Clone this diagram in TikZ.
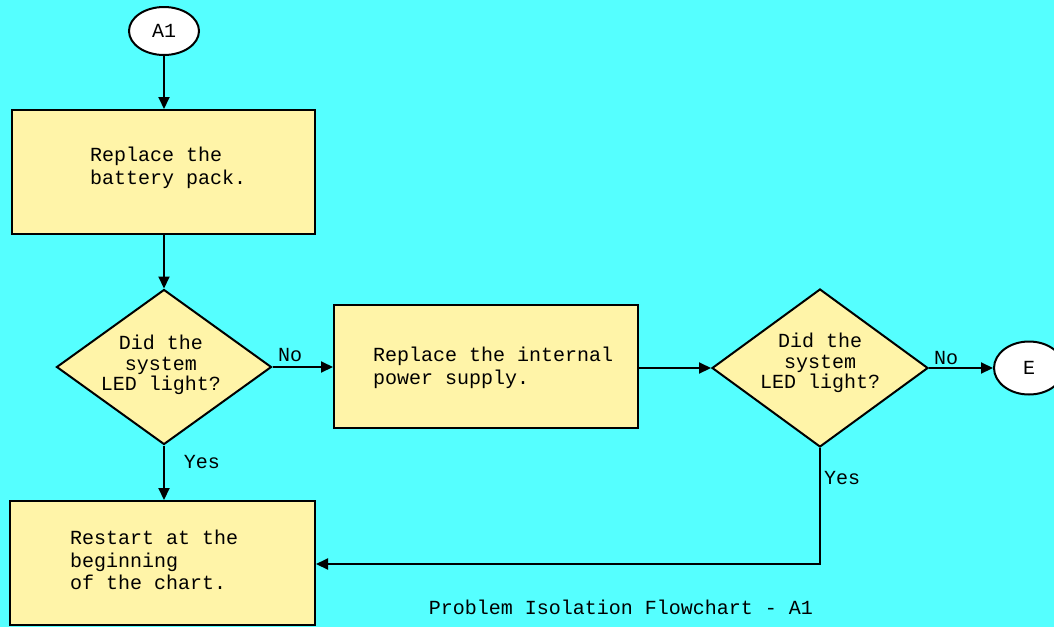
\documentclass[tikz,border=0pt]{standalone}
\usepackage{fontspec}
\setmonofont{Liberation Mono}
\usetikzlibrary{shapes.geometric,arrows.meta}
\definecolor{bgcyan}{RGB}{85,255,255}
\definecolor{boxyellow}{RGB}{255,244,168}
\tikzset{
  every node/.style={font=\ttfamily\fontsize{20}{22.5}\selectfont},
  procbox/.style={draw=black,line width=2pt,fill=boxyellow,rectangle,inner sep=0pt},
  decision/.style={draw=black,line width=2pt,fill=boxyellow,diamond,inner sep=0pt},
  terminal/.style={draw=black,line width=2pt,fill=white,ellipse,inner sep=0pt},
  boxtext/.style={anchor=west,align=left,inner sep=0pt},
  dectext/.style={align=center,inner sep=0pt,font=\ttfamily\fontsize{20}{20.5}\selectfont},
  lbl/.style={inner sep=0pt},
  conn/.style={line width=2pt,-{Triangle[length=12pt,width=11pt]}}
}
\begin{document}
\begin{tikzpicture}[x=1pt,y=-1pt]
\useasboundingbox (0,0) rectangle (1054,627);
\clip (0,0) rectangle (1054,627);
\fill[bgcyan] (0,0) rectangle (1054,627);
% nodes
\node[terminal,minimum width=70pt,minimum height=48pt] (a1) at (164,31) {A1};
\node[procbox,minimum width=303pt,minimum height=124pt] (b1) at (163.5,172) {};
\node[boxtext] (t1) at (90,168) {Replace the\\battery pack.};
\node[decision,minimum width=215pt,minimum height=155pt] (d1) at (164,367) {};
\node[dectext] (t2) at (161,365) {Did the\\system\\LED light?};
\node[procbox,minimum width=304pt,minimum height=123pt] (b2) at (486,366.5) {};
\node[boxtext] (t3) at (373,368) {Replace the internal\\power supply.};
\node[decision,minimum width=216pt,minimum height=158pt] (d2) at (820,368) {};
\node[dectext] (t4) at (820,363) {Did the\\system\\LED light?};
\node[terminal,minimum width=70pt,minimum height=53pt] (e) at (1029,368) {E};
\node[procbox,minimum width=305pt,minimum height=124pt] (b3) at (162.5,563) {};
\node[boxtext] (t5) at (70,560) {Restart at the\\beginning\\of the chart.};
% connectors
\draw[conn] (a1.south) -- (a1.south |- b1.north);
\draw[conn] (b1.south -| d1.north) -- (d1.north);
\draw[conn] (d1.east) -- (d1.east -| b2.west);
\draw[conn] (b2.east |- d2.west) -- (d2.west);
\draw[conn] (d2.east) -- (e.west);
\draw[conn] (d1.south) -- (d1.south |- b3.north);
\coordinate (c1) at (820,564);
\draw[conn] (d2.south) -- (c1) -- (b3.east |- c1);
% labels
\node[lbl] (no1) at (290,355) {No};
\node[lbl] (no2) at (946,358) {No};
\node[lbl] (yes1) at (202,462) {Yes};
\node[lbl] (yes2) at (842,478) {Yes};
\node[lbl] (cap) at (621,607) {Problem Isolation Flowchart - A1};
\end{tikzpicture}
\end{document}
